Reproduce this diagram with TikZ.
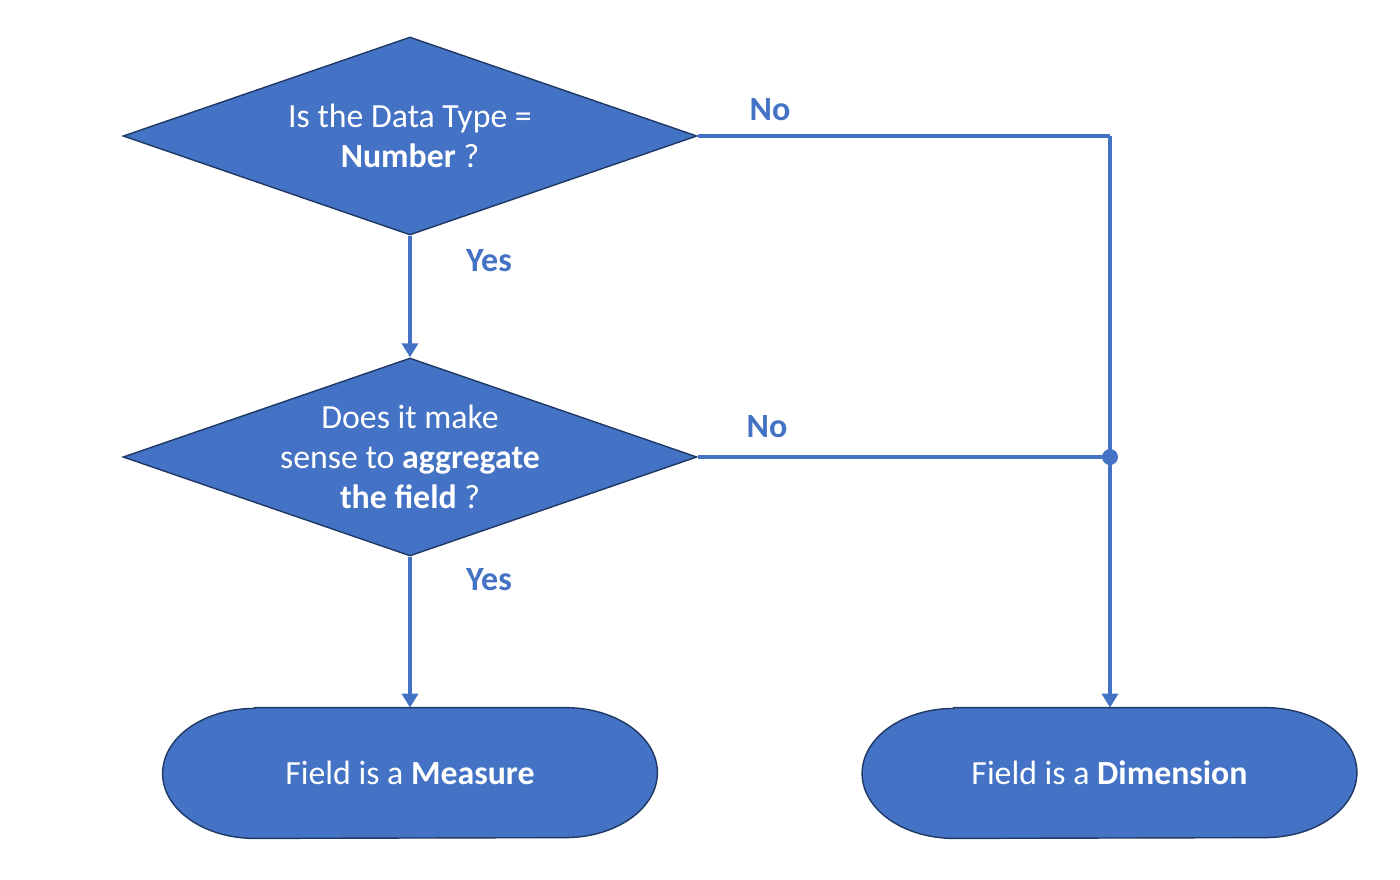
\documentclass[tikz,border=0pt]{standalone}
\usepackage{fontspec}
\setmainfont{Carlito}
\usetikzlibrary{shapes.geometric,arrows.meta,calc}
\definecolor{fillblue}{HTML}{4472C4}
\definecolor{edgeblue}{HTML}{1F3864}
\definecolor{lineblue}{HTML}{4472C4}
\begin{document}
\begin{tikzpicture}[x=0.5pt,y=-0.5pt,
  decision/.style={diamond,fill=fillblue,draw=edgeblue,line width=0.7pt,
    minimum width=287pt,minimum height=99pt,inner sep=0pt,aspect=2.9,
    text=white,align=center,font=\fontsize{16.9}{20}\selectfont},
  termtext/.style={inner sep=0pt,minimum width=247pt,minimum height=65pt,
    text=white,font=\fontsize{16.9}{20}\selectfont},
  termshape/.style={fill=fillblue,draw=edgeblue,line width=0.7pt},
  flow/.style={draw=lineblue,line width=2pt},
  arrowflow/.style={flow,-{Triangle[width=8pt,length=7pt]}},
  lbl/.style={text=lineblue,font=\fontsize{17}{20}\selectfont\bfseries}]
\useasboundingbox (0,0) rectangle (1400,879);
% decisions
\node[decision] (d1) at (410,136) {Is the Data Type =\\\textbf{Number} ?};
\node[decision] (d2) at (410,457) {Does it make\\sense to \textbf{aggregate}\\\textbf{the field} ?};
% terminals
\node[termtext] (m) at (410,773) {};
\node[termtext] (dim) at (1109.5,773) {};
\foreach \n in {m,dim}{
  \filldraw[termshape] ($(\n.north west)+(92,0)$) -- ($(\n.north east)+(-92,0)$)
    arc[start angle=90,end angle=-90,x radius=92,y radius=-65]
    -- ($(\n.south west)+(92,0)$)
    arc[start angle=270,end angle=90,x radius=92,y radius=-65] -- cycle;
}
\node[termtext] at (m) {Field is a \textbf{Measure}};
\node[termtext] at (dim) {Field is a \textbf{Dimension}};
% connectors
\coordinate (c1) at (1110,136);
\coordinate (j) at (1110,457);
\draw[arrowflow] (d1.south) -- (d2.north);
\draw[arrowflow] (d2.south) -- (m.north);
\draw[flow] (d1.east) -- (c1);
\draw[arrowflow] (c1) -- (dim.north -| c1);
\draw[flow] (d2.east) -- (j);
\fill[lineblue] (j) circle[radius=4pt];
% labels
\node[lbl] (no1) at (770,110) {No};
\node[lbl] (no2) at (767,427) {No};
\node[lbl] (yes1) at (489,261) {Yes};
\node[lbl] (yes2) at (489,580) {Yes};
\end{tikzpicture}
\end{document}
